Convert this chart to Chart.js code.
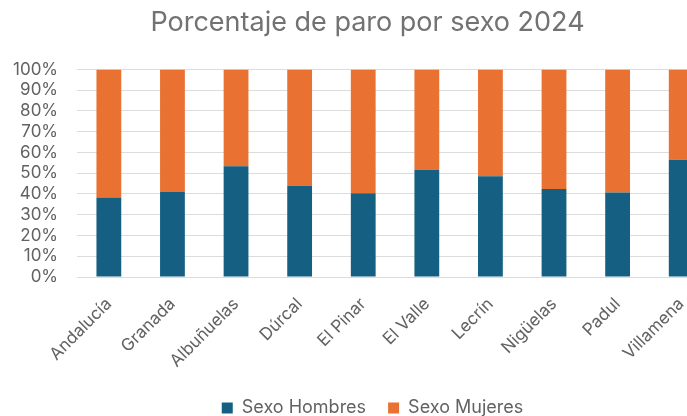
<!DOCTYPE html>
<html>
<head>
<meta charset="utf-8">
<script src="https://cdn.jsdelivr.net/npm/chart.js@4"></script>
<style>
  html, body { margin: 0; padding: 0; background: #fff; overflow: hidden; width: 687px; height: 416px; }
  canvas { display: block; }
</style>
</head>
<body>
<canvas id="myChart" width="740" height="416"></canvas>
<script>

const municipios = ["Andalucía", "Granada", "Albuñuelas", "Dúrcal", "El Pinar", "El Valle", "Lecrín", "Nigüelas", "Padul", "Villamena"]
const hombres = [38.3, 41.0, 53.3, 44.0, 40.4, 51.7, 48.5, 42.4, 40.7, 56.5]
const mujeres = [61.7, 59.0, 46.7, 56.0, 59.6, 48.3, 51.5, 57.6, 59.3, 43.5]
const yTicks = [0, 10, 20, 30, 40, 50, 60, 70, 80, 90, 100]

const gris = "#626262"
const fuente = "Inter, 'Open Sans', sans-serif"

// small nudge so title and legend sit where they do in the original
const correr = {
  id: 'correr',
  afterLayout(chart) {
    chart.legend.left += 19
    chart.legend.right += 19
    chart.titleBlock.left += 14
    chart.titleBlock.right += 14
  }
}

const ctx = document.getElementById('myChart')

new Chart(ctx, {
  type: 'bar',
  data: {
    labels: municipios,
    datasets: [{
      label: 'Sexo Hombres',
      data: hombres,
      backgroundColor: '#156082',
      barPercentage: 0.39,
      categoryPercentage: 1
    }, {
      label: 'Sexo Mujeres',
      data: mujeres,
      backgroundColor: '#E97132',
      barPercentage: 0.39,
      categoryPercentage: 1
    }]
  },
  plugins: [correr],
  options: {
    responsive: false,
    animation: false,
    layout: { autoPadding: false, padding: { left: -6, right: 27, top: 0, bottom: -11 } },
    plugins: {
      title: {
        display: true,
        text: 'Porcentaje de paro por sexo 2024',
        color: '#727272',
        font: { family: fuente, size: 27, weight: 'normal' },
        padding: { top: 7, bottom: 30 }
      },
      legend: {
        position: 'bottom',
        labels: {
          color: gris,
          font: { family: fuente, size: 18 },
          boxWidth: 11,
          boxHeight: 11,
          padding: 22
        }
      },
      tooltip: { enabled: false }
    },
    scales: {
      x: {
        stacked: true,
        grid: { display: false },
        border: { display: false },
        afterFit: function(scale) {
          scale.height = 100
        },
        ticks: {
          color: gris,
          font: { family: fuente, size: 17 },
          minRotation: 45,
          maxRotation: 45,
          padding: 9
        }
      },
      y: {
        stacked: true,
        min: 0,
        max: 100,
        afterBuildTicks: function(axis) {
          axis.ticks = yTicks.map(v => ({ value: v }))
        },
        grid: { color: '#dcdcdc', drawTicks: false },
        border: { display: false },
        ticks: {
          color: gris,
          font: { family: fuente, size: 17 },
          autoSkip: false,
          padding: 19,
          callback: function(v) { return v + '%' }
        }
      }
    }
  }
})

</script>
</body>
</html>
